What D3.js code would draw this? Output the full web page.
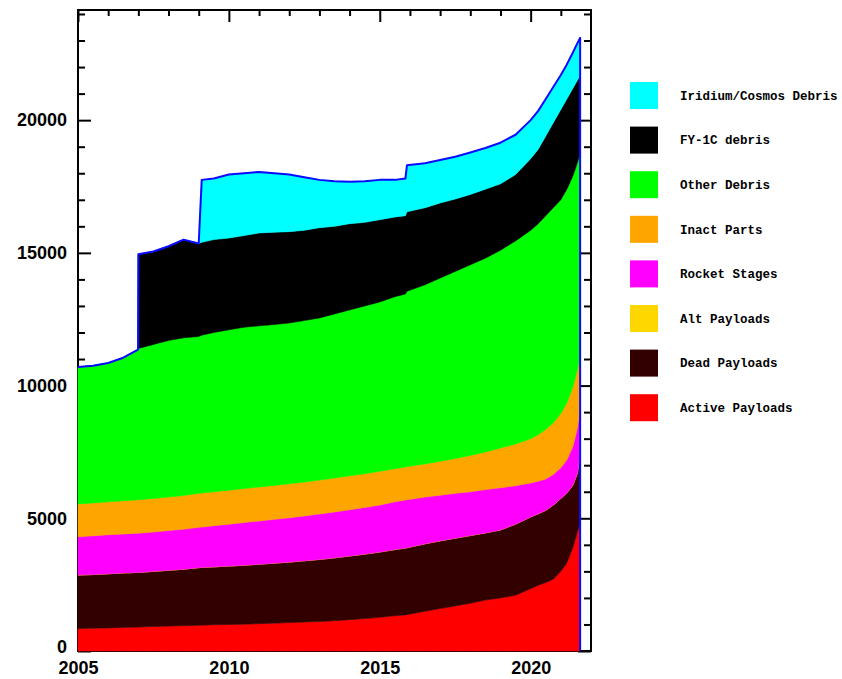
<!DOCTYPE html>
<html><head><meta charset="utf-8">
<script src="https://cdn.jsdelivr.net/npm/d3@7"></script>
<style>html,body{margin:0;padding:0;background:#fff;}svg{display:block;}</style>
</head><body>
<svg id="chart" width="842" height="679"></svg>
<script>
// ---- data (decimal years, object counts per category) ----
const years = [2005.0,2005.5,2006.0,2006.5,2006.99,2007.0,2007.5,2008.0,2008.5,2009.0,2009.1,2009.5,2010.0,2010.5,2011.0,2011.5,2012.0,2012.5,2013.0,2013.5,2014.0,2014.5,2015.0,2015.5,2015.85,2015.9,2016.5,2017.0,2017.5,2018.0,2018.5,2019.0,2019.5,2020.0,2020.25,2020.5,2020.75,2021.0,2021.2,2021.4,2021.55,2021.64];
const activePayloads = [850,860,870,890,900,900,920,940,950,970,970,990,1000,1010,1030,1050,1070,1090,1110,1140,1180,1220,1270,1330,1360,1370,1500,1600,1700,1800,1920,2000,2100,2350,2480,2580,2700,3000,3320,3900,4500,4800];
const deadPayloads = [2010,2020,2040,2050,2060,2060,2080,2100,2130,2170,2180,2180,2200,2220,2240,2260,2280,2310,2340,2370,2400,2430,2460,2490,2520,2520,2540,2550,2550,2550,2530,2560,2680,2700,2690,2720,2800,2750,2630,2350,2200,2700];
const altPayloads = [0,0,0,0,0,0,0,0,0,0,0,0,0,0,0,0,0,0,0,0,0,0,0,0,0,0,0,0,0,0,0,0,0,0,0,0,0,0,0,0,0,0];
const rocketStages = [1440,1460,1470,1470,1480,1480,1480,1500,1510,1520,1520,1550,1580,1610,1630,1650,1670,1690,1710,1730,1740,1760,1770,1800,1810,1810,1760,1720,1690,1650,1630,1590,1450,1280,1230,1180,1150,1150,1250,1450,1700,1600];
const inactParts = [1240,1240,1240,1250,1260,1260,1270,1260,1270,1280,1280,1280,1280,1280,1280,1280,1280,1280,1280,1280,1280,1270,1270,1250,1240,1250,1250,1280,1310,1370,1420,1500,1570,1670,1750,1870,1950,2050,2150,2250,2200,2050];
const otherDebris = [5160,5170,5230,5390,5650,5700,5800,5900,5940,5910,5950,6000,6040,6080,6070,6060,6060,6080,6110,6180,6250,6320,6380,6480,6520,6600,6750,6900,7050,7180,7300,7450,7650,7850,7950,8050,8100,8050,8050,7950,7800,7600];
const fy1cDebris = [0,0,0,0,0,3550,3500,3550,3700,3500,3500,3500,3460,3450,3500,3480,3440,3400,3400,3300,3250,3150,3100,3000,2950,3000,2900,2830,2730,2650,2600,2500,2500,2700,2800,3000,3200,3400,3400,3300,3100,2950];
const iridiumCosmos = [0,0,0,0,0,0,0,0,0,0,2350,2300,2390,2350,2300,2220,2150,2000,1800,1700,1580,1550,1500,1400,1400,1750,1680,1620,1590,1580,1550,1550,1500,1450,1450,1400,1350,1300,1300,1350,1400,1400];

// stacking order bottom -> top
const seriesNames = ["Active Payloads","Dead Payloads","Alt Payloads","Rocket Stages","Inact Parts","Other Debris","FY-1C debris","Iridium/Cosmos Debris"];
const seriesValues = [activePayloads,deadPayloads,altPayloads,rocketStages,inactParts,otherDebris,fy1cDebris,iridiumCosmos];
const seriesColors = ["#ff0000","#330000","#ffd700","#ff00ff","#ffa500","#00ff00","#000000","#00ffff"];

const xTicksMajor = [2005,2010,2015,2020];
const xTicksMinor = [2006,2007,2008,2009,2011,2012,2013,2014,2016,2017,2018,2019,2021];
const yTicksMajor = [0,5000,10000,15000,20000];
const yTicksMinor = [1000,2000,3000,4000,6000,7000,8000,9000,11000,12000,13000,14000,16000,17000,18000,19000,21000,22000,23000,24000];

// ---- layout ----
const L = 78, R = 591, T = 10, B = 651;
const svg = d3.select("#chart");
const x = d3.scaleLinear().domain([2005, 2022]).range([L, R]);
const y = d3.scaleLinear().domain([0, 24150]).range([B, T]);

const table = years.map((t, i) => {
  const row = {t};
  seriesNames.forEach((n, j) => row[n] = seriesValues[j][i]);
  return row;
});
const stacked = d3.stack().keys(seriesNames)(table);

// ---- axes (drawn first, data covers them as in the original) ----
const axFont = "bold 18px 'Liberation Sans', Arial, sans-serif";
function styleAxis(g) {
  g.select(".domain").remove();
  g.selectAll(".tick line").attr("stroke", "#000").attr("stroke-width", 2);
  g.selectAll("text").style("font", axFont).attr("fill", "#000");
}
svg.append("g").attr("transform", `translate(${L},0)`)
  .call(d3.axisLeft(y).tickValues(yTicksMinor).tickSize(-7).tickFormat("")).call(styleAxis);
const yLab = svg.append("g").attr("transform", `translate(${L},0)`)
  .call(d3.axisLeft(y).tickValues(yTicksMajor).tickSize(-13).tickPadding(11).tickFormat(d3.format("d"))).call(styleAxis);
yLab.selectAll(".tick text").filter(d => d === 0).attr("transform", "translate(0,-4)");
svg.append("g").attr("transform", `translate(${R},0)`)
  .call(d3.axisRight(y).tickValues(yTicksMinor).tickSize(-7).tickFormat("")).call(styleAxis);
svg.append("g").attr("transform", `translate(${R},0)`)
  .call(d3.axisRight(y).tickValues(yTicksMajor).tickSize(-13).tickFormat("")).call(styleAxis);
svg.append("g").attr("transform", `translate(0,${T})`)
  .call(d3.axisTop(x).tickValues(xTicksMinor).tickSize(-6).tickFormat("")).call(styleAxis);
svg.append("g").attr("transform", `translate(0,${T})`)
  .call(d3.axisTop(x).tickValues(xTicksMajor).tickSize(-12).tickFormat("")).call(styleAxis);
svg.append("g").attr("transform", `translate(0,${B})`)
  .call(d3.axisBottom(x).tickValues(xTicksMinor).tickSize(-6).tickFormat("")).call(styleAxis);
svg.append("g").attr("transform", `translate(0,${B})`)
  .call(d3.axisBottom(x).tickValues(xTicksMajor).tickSize(-12).tickPadding(10).tickFormat(d3.format("d"))).call(styleAxis);
svg.append("rect").attr("x", L).attr("y", T).attr("width", R - L).attr("height", B - T)
  .attr("fill", "none").attr("stroke", "#000").attr("stroke-width", 2);

// ---- stacked areas ----
const area = d3.area().x(d => x(d.data.t)).y0(d => y(d[0])).y1(d => y(d[1])).curve(d3.curveLinear);
svg.append("g").selectAll("path").data(stacked).join("path")
  .attr("d", area)
  .attr("fill", (d, i) => seriesColors[i])
  .attr("stroke", (d, i) => seriesColors[i])
  .attr("stroke-width", 0.6);

// total outline (blue) with closing vertical edge
const topLayer = stacked[stacked.length - 1];
const outline = d3.line().x(d => x(d[0])).y(d => y(d[1]));
const pts = topLayer.map(d => [d.data.t, d[1]]);
pts.push([years[years.length - 1], 0]);
svg.append("path").attr("d", outline(pts)).attr("fill", "none")
  .attr("stroke", "#0a0aff").attr("stroke-width", 2).attr("stroke-linejoin", "round");

// ---- legend (top -> bottom) ----
const legendOrder = seriesNames.map((n, i) => i).reverse();
const lg = svg.append("g");
legendOrder.forEach((si, k) => {
  const cy = 95.5 + k * 44.6;
  lg.append("rect").attr("x", 630).attr("y", cy - 13.5).attr("width", 28).attr("height", 27)
    .attr("fill", seriesColors[si]);
  lg.append("text").attr("x", 680).attr("y", cy).attr("dy", "0.35em")
    .style("font", "bold 12.5px 'Liberation Mono', 'Courier New', monospace")
    .attr("fill", "#000").text(seriesNames[si]);
});
</script>
</body></html>
